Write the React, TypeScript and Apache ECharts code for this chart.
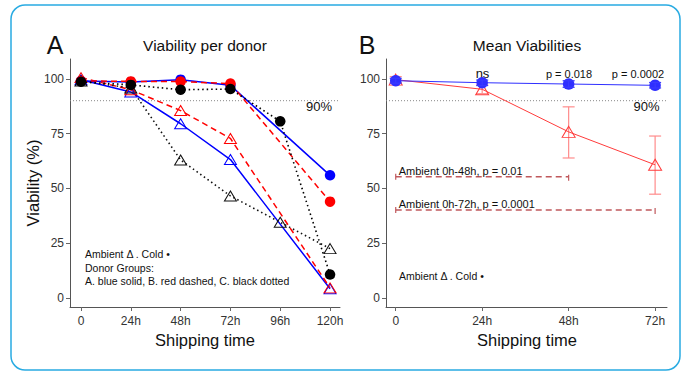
import React, { useEffect, useRef } from "react";
import * as echarts from "echarts";

// ---------- data ----------
const timesA = [0, 24, 48, 72, 96, 120];
const donorA_cold = [99, 98.5, 99.6, 97, null, 56];
const donorA_ambient = [99.5, 94, 79.5, 63.2, null, 4.3];
const donorB_cold = [99, 98.8, 98.7, 97.8, null, 44];
const donorB_ambient = [100.5, 95, 85.5, 72.8, null, 4.7];
const donorC_cold = [98.6, 97.2, 95, 95.3, 80.6, 10.8];
const donorC_ambient = [99, 95.8, 63, 46.6, 34.6, 22.6];

const timesB = [0, 24, 48, 72];
const coldMean = [99.1, 98.2, 97.6, 97];
const coldLow = [98, 96.9, 96.1, 95.8];
const coldHigh = [100.2, 99.4, 99.1, 98.3];
const ambientMean = [99.6, 95.2, 75.8, 60.8];
const ambientLow = [98.2, 93.2, 63.9, 47.4];
const ambientHigh = [101, 97.2, 87.2, 73.9];

const bracketLabels = ["Ambient 0h-48h, p = 0.01", "Ambient 0h-72h, p = 0.0001"];
const bracketFrom = [0, 0];
const bracketTo = [48, 72];
const bracketY = [55.3, 40.2];

const xTicksA = [0, 24, 48, 72, 96, 120];
const xTicksB = [0, 24, 48, 72];
const yTicks = [0, 25, 50, 75, 100];
const threshold = 90;

// ---------- helpers ----------
const FONT = "'Liberation Sans', Arial, Helvetica, sans-serif";
const pairs = (xs: number[], ys: (number | null)[]) =>
  xs.map((x, i) => [x, ys[i]]).filter((p) => p[1] !== null);

const fmtHour = (v: number) => (v === 0 ? "0" : v + "h");

function axisX(gridIndex: number, min: number, max: number, ticks: number[]) {
  return {
    type: "value",
    gridIndex,
    min,
    max,
    splitLine: { show: false },
    axisLine: { show: true, onZero: false, lineStyle: { color: "#555", width: 1 } },
    axisTick: { show: true, customValues: ticks, length: 4, lineStyle: { color: "#666" } },
    axisLabel: {
      customValues: ticks,
      formatter: fmtHour,
      color: "#333",
      fontSize: 12,
      fontFamily: FONT,
      margin: 8,
    },
  };
}

function axisY(gridIndex: number) {
  return {
    type: "value",
    gridIndex,
    min: -4,
    max: 109,
    splitLine: { show: false },
    axisLine: { show: true, onZero: false, lineStyle: { color: "#555", width: 1 } },
    axisTick: { show: true, customValues: yTicks, length: 4, lineStyle: { color: "#666" } },
    axisLabel: {
      customValues: yTicks,
      color: "#333",
      fontSize: 12,
      fontFamily: FONT,
      margin: 6,
    },
  };
}

function lineSeries(
  axis: number,
  data: any[],
  color: string,
  lineType: any,
  width: number,
  symbol: string,
  size: any,
  hollow: boolean,
  z: number
) {
  return {
    type: "line",
    xAxisIndex: axis,
    yAxisIndex: axis,
    data,
    symbol,
    symbolSize: size,
    showSymbol: true,
    z,
    lineStyle: { color, width, type: lineType },
    itemStyle: hollow
      ? { color: "rgba(255,255,255,0)", borderColor: color, borderWidth: 1 }
      : { color, borderWidth: 0 },
    emphasis: { disabled: true },
    silent: true,
  };
}

function errorBars(values: any[], color: string, cap: number, z: number) {
  return {
    type: "custom",
    xAxisIndex: 1,
    yAxisIndex: 1,
    z,
    silent: true,
    encode: { x: 0, y: [1, 2] },
    data: values,
    renderItem: (params: any, api: any) => {
      const x = api.value(0);
      const lo = api.coord([x, api.value(1)]);
      const hi = api.coord([x, api.value(2)]);
      const s = { stroke: color, lineWidth: 1.2 };
      return {
        type: "group",
        children: [
          { type: "line", shape: { x1: lo[0], y1: lo[1], x2: hi[0], y2: hi[1] }, style: s },
          { type: "line", shape: { x1: lo[0] - cap / 2, y1: lo[1], x2: lo[0] + cap / 2, y2: lo[1] }, style: s },
          { type: "line", shape: { x1: hi[0] - cap / 2, y1: hi[1], x2: hi[0] + cap / 2, y2: hi[1] }, style: s },
        ],
      };
    },
  };
}

function txt(text: string, x: number, y: number, size: number, align = "center", extra: any = {}) {
  return {
    type: "text",
    x,
    y,
    silent: true,
    ...extra,
    style: {
      text,
      fill: "#111",
      fontSize: size,
      fontFamily: FONT,
      align,
      textAlign: align,
      verticalAlign: "middle",
      textVerticalAlign: "middle",
    },
  };
}

export default function App() {
  const ref = useRef<HTMLDivElement>(null);
  useEffect(() => {
    if (!ref.current) return;
    const chart = echarts.init(ref.current, null, { renderer: "svg" });
    const xA = [-5.3, 124.8];
    const xB = [-2.7, 75.3];

    const option: any = {
      animation: false,
      grid: [
        { left: 70, top: 59, width: 270, height: 248 },
        { left: 386, top: 59, width: 281, height: 248 },
      ],
      xAxis: [axisX(0, xA[0], xA[1], xTicksA), axisX(1, xB[0], xB[1], xTicksB)],
      yAxis: [axisY(0), axisY(1)],
      series: [
        // 90% thresholds
        {
          type: "line", xAxisIndex: 0, yAxisIndex: 0, symbol: "none", silent: true, z: 1,
          data: [[xA[0], threshold], [xA[1], threshold]],
          lineStyle: { color: "#888", width: 1, type: [1, 2] },
        },
        {
          type: "line", xAxisIndex: 1, yAxisIndex: 1, symbol: "none", silent: true, z: 1,
          data: [[xB[0], threshold], [xB[1], threshold]],
          lineStyle: { color: "#888", width: 1, type: [1, 2] },
        },
        // Panel A: ambient (hollow triangles)
        lineSeries(0, pairs(timesA, donorA_ambient), "#0000ff", "solid", 1.5, "triangle", [12, 10], true, 3),
        lineSeries(0, pairs(timesA, donorB_ambient), "#ff0000", [6, 4], 1.5, "triangle", [12, 10], true, 3),
        lineSeries(0, pairs(timesA, donorC_ambient), "#111", [1.5, 3], 1.6, "triangle", [12, 10], true, 3),
        // Panel A: cold (filled circles)
        lineSeries(0, pairs(timesA, donorA_cold), "#0000ff", "solid", 1.5, "circle", 10.5, false, 4),
        lineSeries(0, pairs(timesA, donorB_cold), "#ff0000", [6, 4], 1.5, "circle", 10.5, false, 5),
        lineSeries(0, pairs(timesA, donorC_cold), "#000", [1.5, 3], 1.6, "circle", 10.5, false, 6),
        // Panel B: error bars
        errorBars(timesB.map((t, i) => [t, ambientLow[i], ambientHigh[i]]), "#ff8c8c", 12, 2),
        errorBars(timesB.map((t, i) => [t, coldLow[i], coldHigh[i]]), "#3a3aff", 12, 6),
        // Panel B: means
        lineSeries(1, pairs(timesB, ambientMean), "#ff3b3b", "solid", 1, "triangle", [13, 11], true, 3),
        lineSeries(1, pairs(timesB, coldMean), "#2f2fff", "solid", 1, "circle", 11.5, false, 5),
        // Panel B: brackets
        {
          type: "custom",
          xAxisIndex: 1,
          yAxisIndex: 1,
          z: 4,
          silent: true,
          encode: { x: [0, 1], y: 2 },
          data: bracketFrom.map((f, i) => [f, bracketTo[i], bracketY[i]]),
          renderItem: (params: any, api: any) => {
            const y = api.value(2);
            const p1 = api.coord([api.value(0), y]);
            const p2 = api.coord([api.value(1), y]);
            const col = "#c0585c";
            return {
              type: "group",
              children: [
                { type: "line", shape: { x1: p1[0], y1: p1[1], x2: p2[0], y2: p2[1] }, style: { stroke: col, lineWidth: 1.5, lineDash: [6, 4] } },
                { type: "line", shape: { x1: p1[0], y1: p1[1] - 3, x2: p1[0], y2: p1[1] + 3 }, style: { stroke: col, lineWidth: 1.2 } },
                { type: "line", shape: { x1: p2[0], y1: p2[1] - 2, x2: p2[0], y2: p2[1] + 4 }, style: { stroke: col, lineWidth: 1.2 } },
                {
                  type: "text",
                  style: {
                    text: bracketLabels[params.dataIndex],
                    x: p1[0] + 3,
                    y: p1[1] - 6,
                    fill: "#111",
                    fontSize: 11,
                    fontFamily: FONT,
                    align: "left",
                    verticalAlign: "middle",
                  },
                },
              ],
            };
          },
        },
      ],
      graphic: [
        {
          type: "rect",
          silent: true,
          shape: { x: 11, y: 5, width: 669, height: 365, r: 14 },
          style: { fill: "none", stroke: "#29abe2", lineWidth: 1.5 },
        },
        txt("A", 55, 45, 25),
        txt("Viability per donor", 205, 45, 15.5),
        txt("B", 367, 45, 25),
        txt("Mean Viabilities", 527, 45, 15.5),
        txt("Viability (%)", 33, 183, 16.5, "center", { rotation: Math.PI / 2 }),
        txt("Shipping time", 205, 340, 16.5),
        txt("Shipping time", 527, 340, 16.5),
        txt("90%", 319, 106, 13),
        txt("90%", 646.5, 106, 13),
        txt("ns", 482.5, 73.5, 13),
        txt("p = 0.018", 569, 74, 11),
        txt("p = 0.0002", 638, 74, 11),
        txt("Ambient \u0394 . Cold \u2022", 85, 254, 10.5, "left"),
        txt("Donor Groups:", 85, 267.7, 10.5, "left"),
        txt("A. blue solid, B. red dashed, C. black dotted", 85, 281, 10.5, "left"),
        txt("Ambient \u0394 . Cold \u2022", 399, 276, 10.5, "left"),
      ],
    };
    chart.setOption(option);
    return () => chart.dispose();
  }, []);
  return (
    <div
      ref={ref}
      style={{ position: "absolute", left: 0, top: 0, width: 683, height: 372, background: "#fff" }}
    />
  );
}
